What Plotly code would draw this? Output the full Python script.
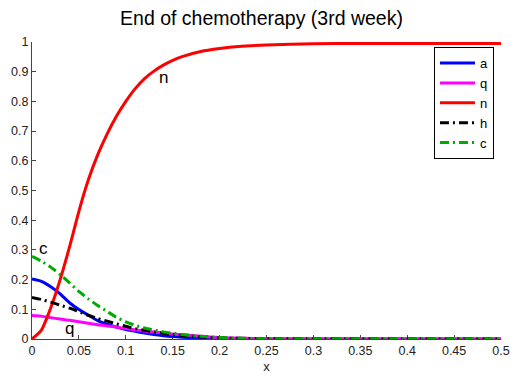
import plotly.graph_objects as go

# spatial grid
x = [0, 0.01, 0.02, 0.03, 0.04, 0.05, 0.06, 0.07, 0.08, 0.09, 0.10, 0.11, 0.12,
     0.13, 0.14, 0.15, 0.16, 0.18, 0.20, 0.22, 0.25, 0.30, 0.35, 0.40, 0.45, 0.50]

a_vals = [0.202, 0.194, 0.176, 0.152, 0.122, 0.099, 0.080, 0.062, 0.050, 0.040, 0.032,
          0.026, 0.020, 0.015, 0.011, 0.008, 0.006, 0.003, 0.001, 0.0, 0.0, 0.0, 0.0, 0.0, 0.0, 0.0]
q_vals = [0.079, 0.077, 0.072, 0.067, 0.063, 0.058, 0.053, 0.048, 0.044, 0.040, 0.035,
          0.031, 0.027, 0.024, 0.020, 0.017, 0.014, 0.009, 0.005, 0.003, 0.001, 0.0, 0.0, 0.0, 0.0, 0.0]
n_vals = [0.0, 0.03, 0.105, 0.20, 0.31, 0.43, 0.535, 0.62, 0.69, 0.75, 0.80,
          0.843, 0.877, 0.902, 0.922, 0.938, 0.951, 0.968, 0.978, 0.985, 0.99, 0.994, 0.995, 0.995, 0.995, 0.995]
h_vals = [0.140, 0.133, 0.124, 0.114, 0.104, 0.092, 0.080, 0.069, 0.060, 0.051, 0.043,
          0.035, 0.029, 0.024, 0.019, 0.015, 0.012, 0.007, 0.004, 0.002, 0.001, 0.0, 0.0, 0.0, 0.0, 0.0]
c_vals = [0.278, 0.262, 0.242, 0.217, 0.189, 0.160, 0.135, 0.113, 0.093, 0.073, 0.058,
          0.046, 0.037, 0.030, 0.024, 0.019, 0.015, 0.009, 0.005, 0.003, 0.001, 0.0, 0.0, 0.0, 0.0, 0.0]

x_ticks = [0, 0.05, 0.1, 0.15, 0.2, 0.25, 0.3, 0.35, 0.4, 0.45, 0.5]
x_tick_labels = ["0", "0.05", "0.1", "0.15", "0.2", "0.25", "0.3", "0.35", "0.4", "0.45", "0.5"]
y_ticks = [0, 0.1, 0.2, 0.3, 0.4, 0.5, 0.6, 0.7, 0.8, 0.9, 1]
y_tick_labels = ["0", "0.1", "0.2", "0.3", "0.4", "0.5", "0.6", "0.7", "0.8", "0.9", "1"]

# in-plot curve labels: (x, y, text)
curve_labels = [(0.005, 0.305, "c"), (0.033, 0.035, "q"), (0.133, 0.88, "n")]

FONT = "Liberation Sans, Arial, sans-serif"
dashdot = "9px,4px,2px,4px"

series = [
    ("a", a_vals, "#0000ff", "solid"),
    ("q", q_vals, "#ff00ff", "solid"),
    ("n", n_vals, "#ff0000", "solid"),
    ("h", h_vals, "#000000", dashdot),
    ("c", c_vals, "#00aa00", dashdot),
]

fig = go.Figure()
for name, vals, color, dash in series:
    fig.add_trace(go.Scatter(x=x, y=vals, name=name, mode="lines",
                             line=dict(color=color, width=3, dash=dash, shape="spline",
                                       smoothing=0.6)))

for lx, ly, txt in curve_labels:
    fig.add_annotation(x=lx, y=ly, text=txt, showarrow=False, xanchor="left",
                       yanchor="middle", font=dict(family=FONT, size=17, color="#000"))

axis_common = dict(showgrid=False, zeroline=False, showline=True, linecolor="#444",
                   linewidth=1, ticks="inside", ticklen=4, tickcolor="#444",
                   mirror=False, layer="below traces", automargin=False,
                   tickfont=dict(family=FONT, size=12.5, color="#222"))

fig.update_xaxes(range=[0, 0.5], tickvals=x_ticks, ticktext=x_tick_labels,
                 title=dict(text="x", font=dict(family=FONT, size=13, color="#222"), standoff=4),
                 **axis_common)
fig.update_yaxes(range=[0, 1], tickvals=y_ticks, ticktext=y_tick_labels, **axis_common)

fig.update_layout(
    width=523, height=381,
    margin=dict(l=32, r=22, t=42, b=42),
    paper_bgcolor="white", plot_bgcolor="white",
    title=dict(text="End of chemotherapy (3rd week)", x=0.5, xanchor="center",
               y=1 - 18 / 381, yanchor="middle",
               font=dict(family=FONT, size=19.5, color="#000")),
    legend=dict(x=0.985, y=0.983, xanchor="right", yanchor="top",
                bgcolor="white", bordercolor="#000", borderwidth=1,
                font=dict(family=FONT, size=13, color="#000"),
                itemwidth=35, tracegroupgap=0),
    showlegend=True,
)

fig.write_html("out.html")
